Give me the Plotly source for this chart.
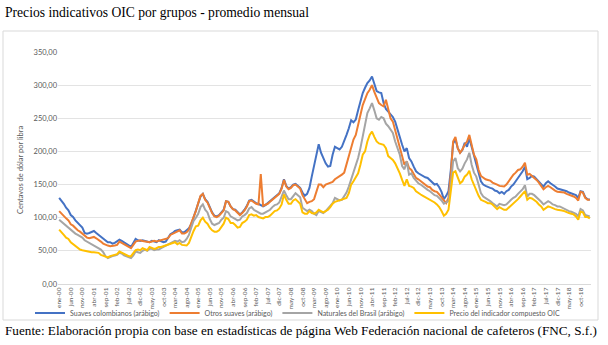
import plotly.graph_objects as go

# Monthly labels, ene-00 ... feb-19
meses = ["ene", "feb", "mar", "abr", "may", "jun", "jul", "ago", "sep", "oct", "nov", "dic"]
periodos = [f"{m}-{a:02d}" for a in range(0, 20) for m in meses][:230]
etiquetas_x = periodos[::5]

# US cents per pound, monthly averages
suaves_colombianos = [
    130, 126, 121, 115, 111, 104, 101, 96, 92, 89, 85, 77,
    76, 77, 78, 80, 77, 74, 71, 69, 65, 63, 63, 61,
    62, 64, 67, 65, 63, 60, 58, 56, 62, 68, 66, 65,
    66, 65, 64, 63, 65, 64, 63, 66, 64, 63, 64, 69,
    75, 77, 80, 81, 82, 78, 78, 81, 84, 90, 100, 110,
    122, 132, 136, 128, 124, 115, 108, 103, 102, 104, 108, 112,
    125, 124, 117, 113, 112, 108, 105, 108, 112, 118, 126, 127,
    124, 122, 121, 119, 117, 119, 122, 125, 128, 132, 134, 137,
    145, 158, 148, 144, 146, 150, 151, 148, 145, 138, 133, 136,
    145, 162, 180, 198, 211, 198, 189, 182, 177, 178, 195, 207,
    205, 203, 207, 215, 225, 235, 247, 244, 248, 262, 275, 288,
    296, 303, 307, 313, 302, 291, 289, 288, 273, 264, 260, 255,
    252, 245, 233, 218, 210, 200, 205, 190, 185, 177, 170, 167,
    165, 162, 161, 160, 157, 154, 150, 151, 146, 139, 128, 133,
    140, 172, 212, 218, 205, 198, 202, 213, 207, 220, 208, 193,
    182, 168, 155, 150, 148, 146, 145, 144, 141, 140, 137, 139,
    136, 140, 142, 147, 150, 155, 160, 165, 170, 177, 158, 160,
    163, 162, 158, 155, 150, 147, 152, 155, 152, 150, 147, 144,
    143, 142, 142, 140, 138, 137, 136, 134, 130, 140, 139, 131,
    128, 127,
]

otros_suaves = [
    110, 106, 103, 99, 96, 90, 88, 84, 81, 79, 76, 72,
    70, 69, 70, 71, 69, 67, 64, 61, 59, 58, 57, 57,
    58, 59, 64, 62, 60, 58, 56, 54, 59, 64, 65, 66,
    65, 64, 64, 63, 64, 65, 64, 65, 66, 66, 67, 69,
    74, 76, 77, 79, 81, 76, 76, 78, 82, 92, 100, 110,
    122, 133, 136, 127, 123, 114, 107, 102, 101, 103, 107, 111,
    125, 124, 117, 113, 111, 107, 104, 107, 111, 117, 125, 126,
    123, 121, 120, 166, 118, 119, 121, 124, 127, 131, 133, 136,
    144, 157, 147, 143, 145, 149, 150, 147, 144, 134, 128, 122,
    124, 125, 128, 138, 150, 150, 146, 150, 151, 153, 154, 158,
    160, 162, 165, 168, 180, 193, 205, 218, 225, 238, 255, 270,
    278, 288, 293, 300, 290, 280, 273, 270, 268, 278, 262, 250,
    245, 232, 220, 205, 190, 180, 185, 175, 172, 166, 160, 158,
    155, 152, 150, 147, 146, 142, 140, 139, 135, 130, 126, 122,
    130, 165, 215, 222, 205, 198, 203, 210, 215, 225, 208, 195,
    188, 172, 163, 160, 158, 157, 156, 153, 152, 150, 148, 147,
    147, 150, 155, 160, 165, 168, 172, 173, 177, 183, 165, 166,
    163, 161, 157, 153, 148, 143, 146, 148, 146, 143, 141, 139,
    139, 138, 138, 136, 135, 134, 132, 130, 126, 139, 138, 130,
    127, 127,
]

naturales_brasil = [
    97, 94, 91, 87, 85, 81, 78, 76, 74, 72, 70, 66,
    64, 63, 60, 59, 57, 54, 52, 48, 42, 39, 41, 42,
    43, 44, 47, 46, 43, 42, 40, 39, 43, 49, 48, 47,
    50, 52, 50, 53, 53, 51, 52, 52, 54, 56, 57, 59,
    61, 63, 65, 64, 66, 63, 64, 68, 74, 85, 95, 100,
    106, 116, 120, 112, 108, 98, 91, 89, 90, 92, 97, 100,
    110, 108, 102, 100, 98, 96, 97, 102, 104, 107, 114, 116,
    112, 110, 108, 106, 106, 108, 110, 112, 116, 119, 120, 123,
    132, 141, 134, 128, 128, 133, 137, 134, 131, 115, 112, 110,
    112, 110, 106, 104, 110, 108, 107, 110, 114, 118, 122, 130,
    128, 126, 127, 132, 138, 147, 158, 170, 182, 190, 205, 222,
    240, 258, 265, 273, 262, 250, 248, 252, 250, 242, 238, 232,
    228, 215, 205, 195, 178, 173, 185, 165, 167, 160, 156, 152,
    150, 147, 144, 142, 140, 137, 134, 133, 130, 126, 121, 123,
    125, 150, 185, 190, 175, 170, 174, 182, 188, 198, 180, 168,
    162, 150, 137, 132, 130, 127, 125, 122, 120, 117, 121, 120,
    119, 120, 124, 127, 130, 132, 136, 140, 143, 149, 132, 136,
    136, 134, 131, 127, 124, 120, 122, 125, 123, 120, 119, 117,
    117, 115, 114, 112, 110, 109, 108, 106, 102, 113, 111, 104,
    103, 102,
]

indicador_compuesto = [
    82, 77, 74, 70, 68, 63, 60, 57, 55, 52, 51, 50,
    49, 49, 48, 48, 48, 47, 44, 43, 41, 40, 42, 43,
    44, 45, 49, 47, 45, 44, 42, 42, 46, 51, 52, 51,
    54, 52, 51, 56, 55, 53, 54, 56, 56, 57, 58, 60,
    60, 61, 63, 60, 62, 59, 58, 58, 62, 72, 80, 87,
    88, 96, 100, 94, 91, 85, 81, 79, 79, 81, 86, 91,
    100, 98, 92, 92, 89, 85, 86, 92, 94, 97, 104, 105,
    103, 104, 101, 100, 99, 101, 101, 103, 107, 110, 111, 114,
    120, 135, 127, 121, 121, 126, 128, 125, 121, 108, 106, 106,
    110, 107, 106, 108, 112, 110, 108, 110, 112, 116, 121, 124,
    125, 126, 127, 128, 130, 137, 150, 155, 162, 167, 180, 195,
    200, 215, 225, 230, 222, 215, 212, 211, 210, 205, 193, 190,
    187, 182, 175, 167, 157, 148, 158, 148, 147, 145, 140, 137,
    135, 133, 131, 130, 128, 126, 123, 120, 116, 110, 103, 106,
    112, 140, 168, 170, 160, 152, 155, 162, 165, 171, 158, 150,
    140, 133, 127, 126, 124, 122, 122, 120, 117, 113, 116, 114,
    112, 112, 115, 118, 122, 125, 128, 132, 136, 140, 127, 130,
    129, 127, 124, 120, 117, 112, 115, 117, 116, 114, 113, 112,
    112, 111, 110, 108, 107, 106, 105, 102, 97, 109, 108, 101,
    101, 99,
]

series = [
    ("Suaves colombianos (arábigo)", suaves_colombianos, "#4472C4"),
    ("Otros suaves (arábigo)", otros_suaves, "#ED7D31"),
    ("Naturales del Brasil (arábigo)", naturales_brasil, "#A5A5A5"),
    ("Precio del indicador compuesto OIC", indicador_compuesto, "#FFC000"),
]

fig = go.Figure()
for nombre, valores, color in series:
    fig.add_trace(go.Scatter(
        x=periodos, y=valores, mode="lines", name=nombre,
        line=dict(color=color, width=2),
    ))

gris = "#595959"
sans = "Lato, 'Open Sans', sans-serif"
serif = "'Liberation Serif', 'Times New Roman', serif"

# The page is 608 x 345 px with no margins; the plot area is set through the
# axis domains, so every paper coordinate stays inside [0, 1].
W, H = 608, 345


def fx(p):
    return p / W


def fy(p):
    return (H - p) / H


fig.update_layout(
    width=W, height=H,
    margin=dict(l=0, r=0, t=0, b=0),
    paper_bgcolor="white", plot_bgcolor="white",
    separators=",.",
    showlegend=True,
    legend=dict(
        orientation="h", x=fx(30), y=fy(313), xanchor="left", yanchor="middle",
        font=dict(family=sans, size=7, color=gris),
        bgcolor="rgba(0,0,0,0)",
        itemwidth=30, tracegroupgap=0,
    ),
    xaxis=dict(
        domain=[fx(58), fx(591)],
        type="category", range=[-0.5, 229.5],
        tickmode="array", tickvals=etiquetas_x, ticktext=etiquetas_x,
        tickangle=-90, tickfont=dict(family=sans, size=6.5, color=gris),
        showgrid=False, showline=True, linecolor="#d9d9d9", linewidth=1,
        ticks="", zeroline=False, automargin=False,
    ),
    yaxis=dict(
        domain=[fy(284), fy(52)],
        range=[0, 350], dtick=50, tickformat=".2f",
        tickfont=dict(family=sans, size=7.5, color=gris),
        showgrid=True, gridcolor="#e3e3e3", gridwidth=1,
        zeroline=False, showline=False, ticks="", automargin=False,
    ),
    annotations=[
        dict(text="Precios indicativos OIC por grupos - promedio mensual",
             xref="paper", yref="paper", x=fx(3), y=fy(12),
             xanchor="left", yanchor="middle", showarrow=False,
             font=dict(family=serif, size=13.6, color="black")),
        dict(text="Fuente: Elaboración propia con base en estadísticas de página Web "
                  "Federación nacional de cafeteros (FNC, S.f.)",
             xref="paper", yref="paper", x=fx(3), y=fy(330),
             xanchor="left", yanchor="middle", showarrow=False,
             font=dict(family=serif, size=13.2, color="black")),
        dict(text="Centavos de dólar por libra",
             xref="paper", yref="paper", x=fx(20), y=fy(170),
             xanchor="center", yanchor="middle", textangle=-90, showarrow=False,
             font=dict(family=sans, size=7.5, color=gris)),
    ],
    shapes=[
        dict(type="rect", xref="paper", yref="paper",
             x0=fx(3), x1=fx(598), y0=fy(320), y1=fy(31),
             line=dict(color="#d9d9d9", width=1), fillcolor="rgba(0,0,0,0)",
             layer="below"),
    ],
)

fig.write_html("out.html")
